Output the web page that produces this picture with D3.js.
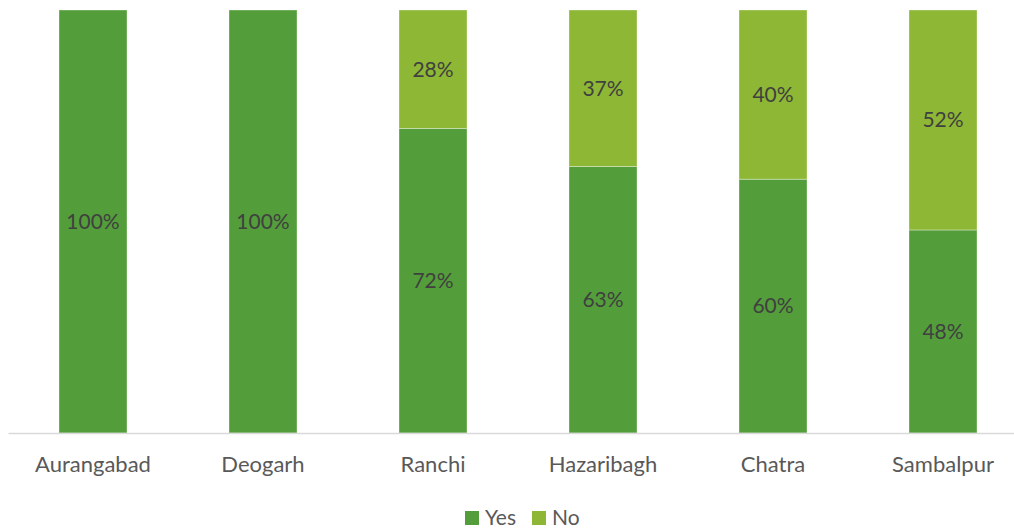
<!DOCTYPE html>
<html>
<head>
<meta charset="utf-8">
<script src="https://cdn.jsdelivr.net/npm/d3@7"></script>
<style>
  html, body { margin: 0; padding: 0; background: #fff; }
  svg { display: block; }
</style>
</head>
<body>
<svg id="chart" width="1014" height="529"></svg>
<script>
// District-wise share of responses
const districts = ["Aurangabad", "Deogarh", "Ranchi", "Hazaribagh", "Chatra", "Sambalpur"];
const yesValues = [100, 100, 72, 63, 60, 48];
const noValues  = [0, 0, 28, 37, 40, 52];
const seriesNames = ["Yes", "No"];
const seriesColors = ["#539E3A", "#8DB734"];

const svg = d3.select("#chart");
const plot = { left: 8, right: 1028, top: 10, bottom: 433 };
const font = "Lato, 'Open Sans', sans-serif";

const x = d3.scaleBand().domain(districts).range([plot.left, plot.right]).paddingInner(0.6).paddingOuter(0.3);
const y = d3.scaleLinear().domain([0, 100]).range([plot.bottom, plot.top]);

const rows = districts.map((d, i) => ({ district: d, Yes: yesValues[i], No: noValues[i] }));
const stacked = d3.stack().keys(seriesNames)(rows);

const g = svg.append("g");
stacked.forEach((layer, li) => {
  const lg = g.append("g").attr("fill", seriesColors[li]);
  lg.selectAll("rect")
    .data(layer.filter(d => d[1] - d[0] > 0))
    .join("rect")
    .attr("x", d => x(d.data.district))
    .attr("width", x.bandwidth())
    .attr("y", d => y(d[1]))
    .attr("height", d => y(d[0]) - y(d[1]))
    .attr("stroke", "#ffffff")
    .attr("stroke-opacity", 0.35)
    .attr("stroke-width", 1);

  lg.selectAll("text")
    .data(layer.filter(d => d[1] - d[0] > 0))
    .join("text")
    .attr("x", d => x(d.data.district) + x.bandwidth() / 2)
    .attr("y", d => (y(d[0]) + y(d[1])) / 2)
    .attr("dy", "0.35em")
    .attr("text-anchor", "middle")
    .attr("fill", "#404040")
    .style("font-family", font)
    .style("font-size", "21px")
    .text(d => (d[1] - d[0]) + "%");
});

// Category axis
const xAxis = d3.axisBottom(x).tickSize(0).tickPadding(23.5);
const ax = svg.append("g").attr("transform", `translate(0,${plot.bottom})`).call(xAxis);
ax.select(".domain").attr("stroke", "#d9d9d9").attr("stroke-width", 1.5);
ax.selectAll("text")
  .attr("fill", "#595959")
  .style("font-family", font)
  .style("font-size", "22px");

// Legend
const legendItems = [
  { name: seriesNames[0], color: seriesColors[0], x: 465 },
  { name: seriesNames[1], color: seriesColors[1], x: 532 }
];
const legend = svg.append("g");
legendItems.forEach(it => {
  legend.append("rect").attr("x", it.x).attr("y", 511).attr("width", 14).attr("height", 14).attr("fill", it.color);
  legend.append("text")
    .attr("x", it.x + 20).attr("y", 525)
    .attr("fill", "#595959")
    .style("font-family", font)
    .style("font-size", "21px")
    .text(it.name);
});
</script>
</body>
</html>
